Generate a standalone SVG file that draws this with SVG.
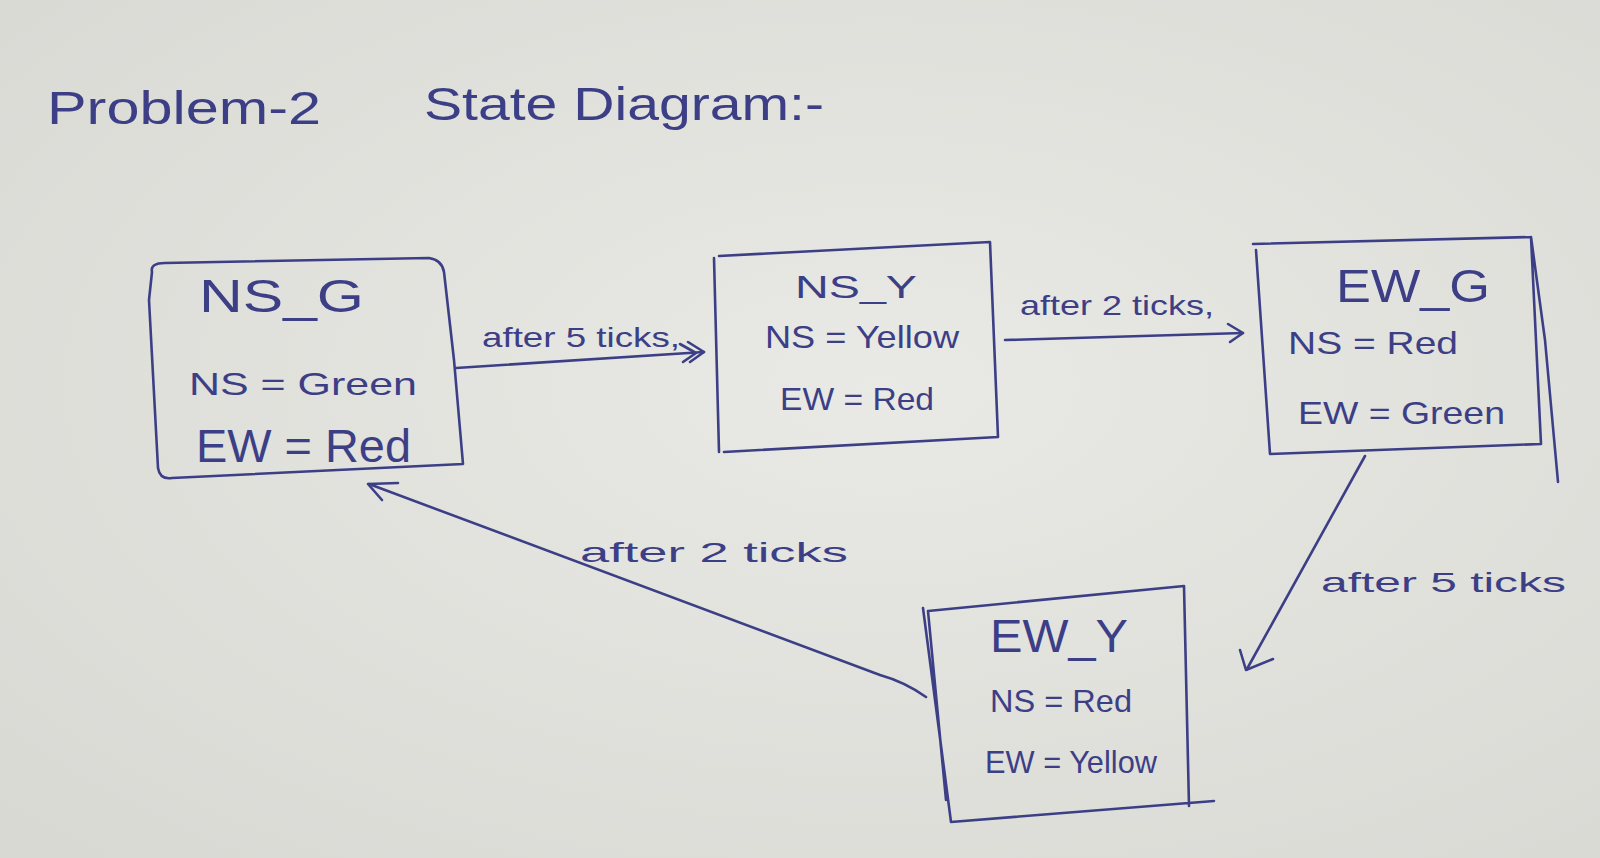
<svg xmlns="http://www.w3.org/2000/svg" width="1600" height="858" viewBox="0 0 1600 858">
<defs>
<radialGradient id="bg" cx="0.55" cy="0.45" r="0.75">
<stop offset="0" stop-color="#e9e9e5"/>
<stop offset="1" stop-color="#d9d9d4"/>
</radialGradient>
<style>
.ink{fill:none;stroke:#3c3f86;stroke-width:2.6;stroke-linecap:round;stroke-linejoin:round}
.t{font-family:"Liberation Sans","DejaVu Sans",sans-serif;fill:#3c3f86}
.big{font-size:46px}
.mid{font-size:32px}
.lab{font-size:28px}
</style>
</defs>
<rect width="1600" height="858" fill="url(#bg)"/>

<g id="title">
<text class="t" x="47" y="124" font-size="46" textLength="274" lengthAdjust="spacingAndGlyphs">Problem-2</text>
<text class="t" x="424" y="120" font-size="46" textLength="400" lengthAdjust="spacingAndGlyphs">State Diagram:-</text>
</g>

<g id="NS_G">
<path class="ink" d="M152,272 Q150,263 165,263 L429,258 Q442,260 444,272 L454,360 L463,464 L172,478 Q160,480 158,468 L149,300 Z"/>
<text class="t big" x="199" y="312" textLength="165" lengthAdjust="spacingAndGlyphs">NS_G</text>
<text class="t mid" x="189" y="395" textLength="228" lengthAdjust="spacingAndGlyphs">NS = Green</text>
<text class="t big" x="196" y="462" textLength="215" lengthAdjust="spacingAndGlyphs">EW = Red</text>
</g>

<g id="NS_Y">
<path class="ink" d="M719,256 L990,242 L998,437 L724,452 M714,258 L719,452"/>
<text class="t mid" x="795" y="298" textLength="122" lengthAdjust="spacingAndGlyphs">NS_Y</text>
<text class="t mid" x="765" y="348" textLength="194" lengthAdjust="spacingAndGlyphs">NS = Yellow</text>
<text class="t mid" x="780" y="410" textLength="154" lengthAdjust="spacingAndGlyphs">EW = Red</text>
</g>

<g id="EW_G">
<path class="ink" d="M1253,244 L1531,237 L1541,444 L1270,454 L1256,250 M1531,237 L1545,340 L1558,482"/>
<text class="t big" x="1336" y="302" textLength="154" lengthAdjust="spacingAndGlyphs">EW_G</text>
<text class="t mid" x="1288" y="354" textLength="170" lengthAdjust="spacingAndGlyphs">NS = Red</text>
<text class="t mid" x="1298" y="424" textLength="207" lengthAdjust="spacingAndGlyphs">EW = Green</text>
</g>

<g id="EW_Y">
<path class="ink" d="M928,611 L1184,586 L1189,806 M951,822 L1214,801 M923,608 L951,822 M928,611 L946,800"/>
<text class="t big" x="990" y="652" textLength="138" lengthAdjust="spacingAndGlyphs">EW_Y</text>
<text class="t mid" x="990" y="712" textLength="142" lengthAdjust="spacingAndGlyphs">NS = Red</text>
<text class="t mid" x="985" y="773" textLength="172" lengthAdjust="spacingAndGlyphs">EW = Yellow</text>
</g>

<g id="connectors">
<path class="ink" d="M456,368 L704,352"/>
<path class="ink" d="M688,342 L704,352 L690,362 M680,344 L696,353 L683,362"/>
<text class="t lab" x="482" y="347" textLength="198" lengthAdjust="spacingAndGlyphs">after 5 ticks,</text>

<path class="ink" d="M1005,340 L1243,333"/>
<path class="ink" d="M1228,324 L1243,333 L1230,342"/>
<text class="t lab" x="1020" y="315" textLength="194" lengthAdjust="spacingAndGlyphs">after 2 ticks,</text>

<path class="ink" d="M1365,456 L1247,669"/>
<path class="ink" d="M1240,650 L1246,670 L1273,659"/>
<text class="t lab" x="1321" y="592" textLength="245" lengthAdjust="spacingAndGlyphs">after 5 ticks</text>

<path class="ink" d="M926,697 Q905,682 880,675 L369,484"/>
<path class="ink" d="M398,483 L368,484 L382,500" stroke-width="4"/>
<text class="t lab" x="580" y="562" textLength="268" lengthAdjust="spacingAndGlyphs">after 2 ticks</text>
</g>
</svg>
